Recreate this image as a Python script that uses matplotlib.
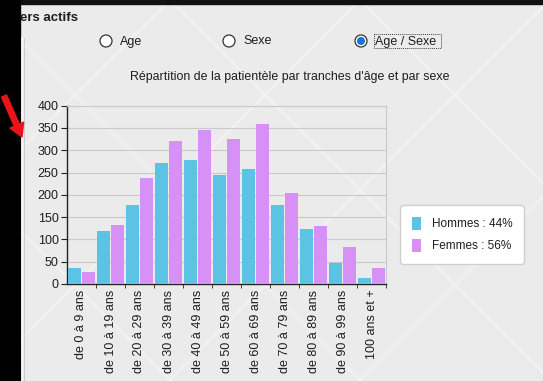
import numpy as np
import matplotlib
matplotlib.use("Agg")
import matplotlib.pyplot as plt
from matplotlib.patches import Circle, Rectangle, FancyArrow

plt.rcParams['font.family'] = ['Liberation Sans', 'DejaVu Sans']

tranches = ["de 0 à 9 ans", "de 10 à 19 ans", "de 20 à 29 ans", "de 30 à 39 ans",
            "de 40 à 49 ans", "de 50 à 59 ans", "de 60 à 69 ans", "de 70 à 79 ans",
            "de 80 à 89 ans", "de 90 à 99 ans", "100 ans et +"]
hommes = [35, 118, 178, 272, 279, 245, 259, 178, 123, 47, 13]
femmes = [28, 133, 237, 320, 346, 326, 360, 205, 131, 84, 37]
yticks = [0, 50, 100, 150, 200, 250, 300, 350, 400]

pct_h = round(100 * sum(hommes) / (sum(hommes) + sum(femmes)))
pct_f = 100 - pct_h

bleu = "#5cc3e4"
rose = "#d690f6"
txt = "#1e1e1e"

fig = plt.figure(figsize=(5.43, 3.81), dpi=100)

# fond de la fenetre, en pixels
bg = fig.add_axes([0, 0, 1, 1])
bg.set_xlim(0, 543)
bg.set_ylim(381, 0)
bg.axis("off")
bg.add_patch(Rectangle((0, 0), 543, 381, color="#ebebeb", zorder=0))
for c in range(-400, 1000, 190):
    bg.plot([c, c + 400], [0, 400], color="white", lw=2, alpha=0.3, zorder=1)
    bg.plot([c, c - 400], [0, 400], color="white", lw=2, alpha=0.3, zorder=1)
bg.add_patch(Rectangle((0, 0), 543, 4, color="#111111", zorder=2))
bg.add_patch(Rectangle((0, 0), 20, 381, color="black", zorder=2))
bg.plot([22, 22], [38, 381], color="white", lw=1.2, alpha=0.8, zorder=2)
bg.plot([23.5, 23.5], [38, 381], color="#cccccc", lw=0.7, zorder=2)
bg.add_patch(FancyArrow(4, 96, 18, 41, width=5.5, head_width=15, head_length=13,
                        color="#e8141a", length_includes_head=True, zorder=3))
bg.text(20, 18, "ers actifs", fontsize=9.5, fontweight="bold", color=txt, va="center")

# boutons radio
radios = [(106, "Age", False), (229, "Sexe", False), (361, "Age / Sexe", True)]
for x, lab, sel in radios:
    bg.add_patch(Circle((x, 41), 6, facecolor="white", edgecolor="#333333", lw=0.9, zorder=3))
    if sel:
        bg.add_patch(Circle((x, 41), 3.3, color="#1a74d6", zorder=4))
    bg.text(x + 14, 41.5, lab, fontsize=9, color=txt, va="center", zorder=4)
bg.add_patch(Rectangle((374, 33.5), 67, 14, fill=False, ls=(0, (1, 1)), lw=0.7,
                       edgecolor="#444444", zorder=4))

bg.text(290, 77, "Répartition de la patientèle par tranches d'âge et par sexe",
        fontsize=8.9, color=txt, ha="center", va="center")

ax = fig.add_axes([67 / 543, 1 - 284 / 381, 319 / 543, (284 - 105.7) / 381])
ax.patch.set_alpha(0)
x = np.arange(len(tranches))
ax.bar(x - 0.235, hommes, width=0.45, color=bleu, label=f"Hommes : {pct_h}%", zorder=3)
ax.bar(x + 0.235, femmes, width=0.45, color=rose, label=f"Femmes : {pct_f}%", zorder=3)

ax.set_xlim(-0.5, len(tranches) - 0.5)
ax.set_ylim(0, 400)
ax.set_yticks(yticks)
ax.set_yticklabels([str(v) for v in yticks], fontsize=9, color=txt)
ax.set_xticks(x)
ax.set_xticklabels(tranches, rotation=90, fontsize=9, color=txt)
ax.set_xticks(np.arange(len(tranches)) + 0.5, minor=True)
ax.tick_params(axis="x", which="major", length=0, pad=4)
ax.tick_params(axis="x", which="minor", length=3, color="#222222")
ax.tick_params(axis="y", length=4, color="#222222", pad=2)
ax.grid(axis="y", color="#c9c9c9", lw=0.8, zorder=0)
for s in ["left", "bottom"]:
    ax.spines[s].set_color("#222222")
    ax.spines[s].set_linewidth(1.0)
for s in ["top", "right"]:
    ax.spines[s].set_color("#c9c9c9")
    ax.spines[s].set_linewidth(0.8)

leg = ax.legend(loc="center", bbox_to_anchor=(462 / 543, 1 - 234.5 / 381),
                bbox_transform=fig.transFigure, fontsize=8.5, frameon=True,
                fancybox=True, handlelength=0.8, handleheight=1.3,
                handletextpad=0.9, labelspacing=0.75, borderpad=0.95,
                borderaxespad=0, labelcolor=txt)
leg.get_frame().set_facecolor("white")
leg.get_frame().set_edgecolor("#cfcfcf")
leg.get_frame().set_alpha(1)

fig.savefig("out.png", dpi=100)
